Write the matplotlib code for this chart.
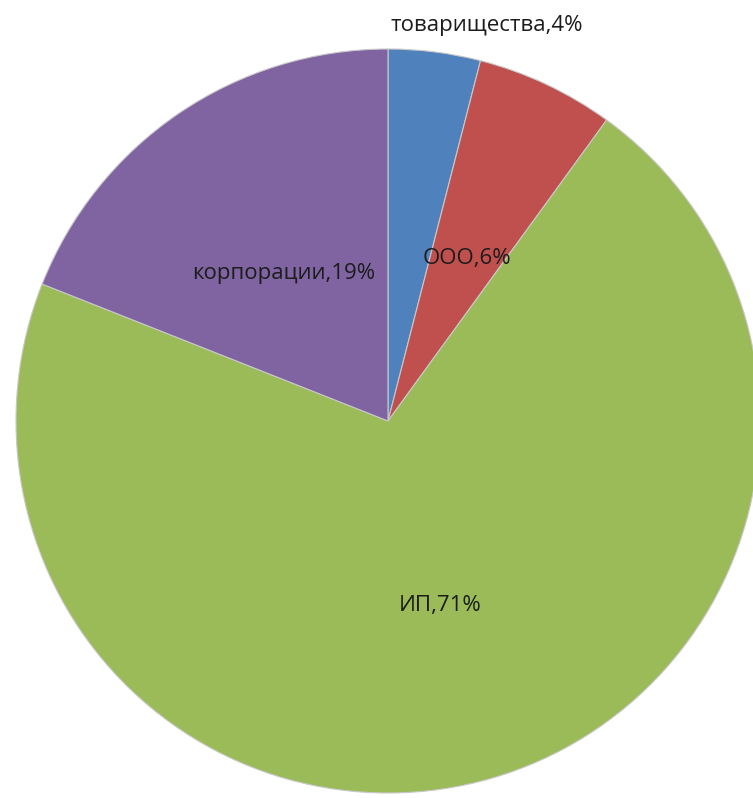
import numpy as np
import matplotlib
matplotlib.use("Agg")
import matplotlib.pyplot as plt

plt.rcParams["font.family"] = ["Open Sans", "DejaVu Sans"]

categories = ["товарищества", "ООО", "ИП", "корпорации"]
shares = [4, 6, 71, 19]
colors = ["#4F81BD", "#C0504D", "#9BBB59", "#8064A2"]

W, H = 753, 798
fig = plt.figure(figsize=(W / 100, H / 100), dpi=100)
ax = fig.add_axes([0, 0, 1, 1])

cx, cy, R = 388, H - 421, 372
wedges, _ = ax.pie(shares, colors=colors, startangle=90, counterclock=False,
                   center=(cx, cy), radius=R, frame=True,
                   wedgeprops=dict(edgecolor="#c8c8c8", linewidth=0.8))
ax.set_xlim(0, W)
ax.set_ylim(0, H)
ax.set_aspect("equal")
ax.axis("off")

for w, name, v in zip(wedges, categories, shares):
    mid = np.deg2rad((w.theta1 + w.theta2) / 2)
    txt = f"{name},{v}%"
    if v < 5:
        # small slice: label sits above the rim
        x = cx + R * np.cos(mid) + 52
        y = cy + R * np.sin(mid) + 26
    else:
        x = cx + 0.5 * R * np.cos(mid)
        y = cy + 0.5 * R * np.sin(mid) - 6
    ax.text(x, y, txt, ha="center", va="center", fontsize=16,
            color="#1c1c1c")

fig.savefig("out.png", dpi=100)
